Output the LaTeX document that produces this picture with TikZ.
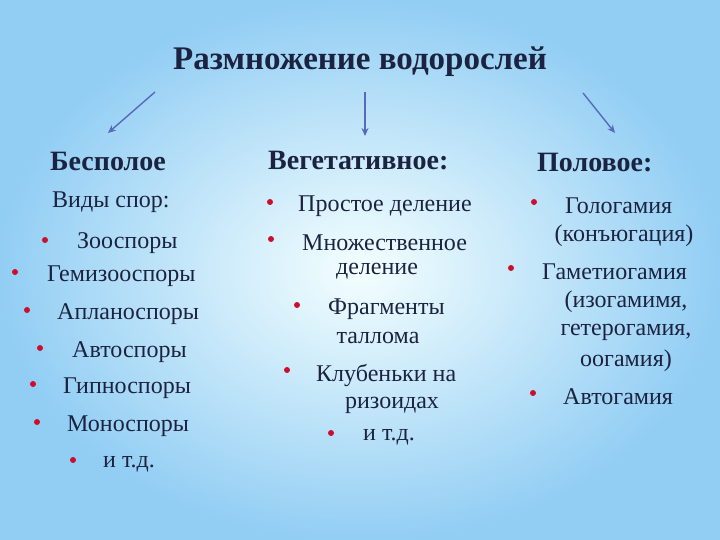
\documentclass[tikz,border=0pt]{standalone}
\usepackage{fontspec}
\usetikzlibrary{arrows.meta}
\setmainfont{Liberation Serif}
\begin{document}
\begin{tikzpicture}[x=1pt,y=-1pt,
  t/.style={anchor=west,inner sep=0pt,text=txt,font=\fontsize{24}{26}\selectfont},
  c/.style={anchor=center,inner sep=0pt,text=txt,font=\fontsize{24}{26}\selectfont},
  h/.style={anchor=west,inner sep=0pt,text=txt,font=\fontsize{28}{30}\selectfont\bfseries},
  bul/.style={circle,fill=bred,inner sep=0pt,minimum size=6pt},
  arr/.style={draw=arrc,line width=1.4pt,-{Stealth[length=8pt,width=7pt]}}]
\definecolor{txt}{HTML}{1C2340}
\definecolor{arrc}{HTML}{5868C0}
\definecolor{bred}{HTML}{C8102E}
\useasboundingbox (0,0) rectangle (720,540);
\shade[inner color=white!80!cyan!30, outer color={rgb,255:red,100;green,185;blue,240}] (0,0) rectangle (720,540);
\fill[white,opacity=0.3] (0,0) rectangle (720,540);
\node[anchor=center,inner sep=0pt,text=txt,font=\fontsize{33}{36}\selectfont\bfseries] (title) at (360,62) {Размножение водорослей};
\coordinate (a1) at (155,92); \coordinate (b1) at (108,133);
\coordinate (a2) at (365,92); \coordinate (b2) at (365,136);
\coordinate (a3) at (583,93); \coordinate (b3) at (615,133);
\draw[arr] (a1) -- (b1); \draw[arr] (a2) -- (b2); \draw[arr] (a3) -- (b3);
\node[h] (h1) at (50,161) {Бесполое};
\node[h] (h2) at (268,161) {Вегетативное:};
\node[h] (h3) at (537,163) {Половое:};
% left
\node[t] (l0) at (52,202) {Виды спор:};
\node[bul] (lb1) at (45,240) {}; \node[t] (l1) at (77,243) {Зооспоры};
\node[bul] (lb2) at (15,272) {}; \node[t] (l2) at (47,276) {Гемизооспоры};
\node[bul] (lb3) at (27,310) {}; \node[t] (l3) at (57,314) {Апланоспоры};
\node[bul] (lb4) at (40,348) {}; \node[t] (l4) at (72,352) {Автоспоры};
\node[bul] (lb5) at (33,384) {}; \node[t] (l5) at (63,388) {Гипноспоры};
\node[bul] (lb6) at (37,422) {}; \node[t] (l6) at (67,426) {Моноспоры};
\node[bul] (lb7) at (73,460) {}; \node[t] (l7) at (103,464) {и т.д.};
% middle
\node[bul] (mb1) at (270,202) {}; \node[t] (m1) at (298,206) {Простое деление};
\node[bul] (mb2) at (271,239) {}; \node[t] (m2) at (302,243) {Множественное};
\node[c] (m2b) at (377,271) {деление};
\node[bul] (mb3) at (297,305) {}; \node[t] (m3) at (328,309) {Фрагменты};
\node[c] (m3b) at (378,338) {таллома};
\node[bul] (mb4) at (287,370) {}; \node[t] (m4) at (316,375) {Клубеньки на};
\node[c] (m4b) at (392,405) {ризоидах};
\node[bul] (mb5) at (331,433) {}; \node[t] (m5) at (363,437) {и т.д.};
% right
\node[bul] (rb1) at (534,202) {}; \node[t] (r1) at (565,206) {Гологамия};
\node[c] (r1b) at (624,236) {(конъюгация)};
\node[bul] (rb2) at (511,268) {}; \node[t] (r2) at (542,272) {Гаметиогамия};
\node[c] (r2b) at (626,302) {(изогамимя,};
\node[c] (r2c) at (626,332) {гетерогамия,};
\node[c] (r2d) at (626,361) {оогамия)};
\node[bul] (rb3) at (533,393) {}; \node[t] (r3) at (563,397) {Автогамия};
\end{tikzpicture}
\end{document}
